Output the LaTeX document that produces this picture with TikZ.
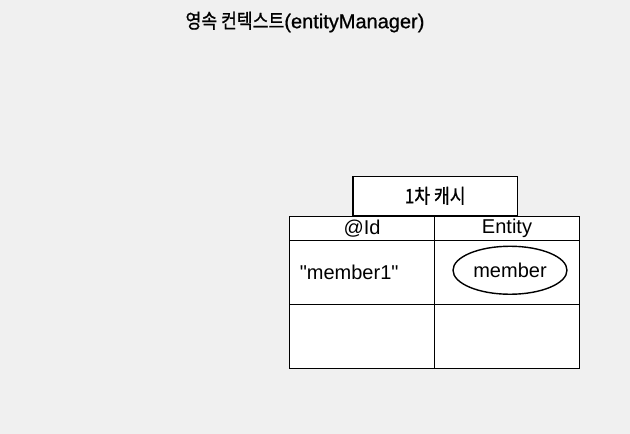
\documentclass[tikz,border=0pt]{standalone}
\usepackage{fontspec}
\setmainfont{Liberation Sans}
\newfontfamily\lat{Liberation Sans}
\newfontfamily\latb{Liberation Sans}[FakeBold=0.8]
\newfontfamily\kr{Noto Sans CJK KR}[FakeStretch=0.86,FakeBold=0.8]
\usetikzlibrary{positioning,shapes.geometric}

\begin{document}
\begin{tikzpicture}[x=1pt,y=-1pt]
  \fill[black!6] (0,0) rectangle (630,434);
  \useasboundingbox (0,0) rectangle (630,434);
  \begin{scope}[line width=1.4pt,node distance=145pt,on grid,
    cell/.style={rectangle,draw,fill=white,minimum width=145pt,minimum height=64pt,inner sep=0pt,font=\lat\fontsize{20}{22}\selectfont},
    head/.style={cell,minimum height=23.5pt},
    tab/.style={cell,minimum width=164.6pt,minimum height=39pt}]

    \node[font=\latb\fontsize{20}{22}\selectfont] (title) at (305,22) {{\kr\fontsize{20}{22}\selectfont 영속 컨텍스트}(entityManager)};

    \node[head] (id_head) at (362,228.5) {@Id};
    \node[head, right=of id_head] (entity_head) {Entity};
    \node[cell, below=43.75pt of id_head] (id_row1) {};
    \node[cell, right=of id_row1] (entity_row1) {};
    \node[cell, below=64pt of id_row1] (id_row2) {};
    \node[cell, right=of id_row2] (entity_row2) {};
    \node[tab, anchor=south] (cache) at (id_head.north east) {\kr\fontsize{20}{22}\selectfont 1차 캐시};

    \node[anchor=west, font=\lat\fontsize{20}{22}\selectfont] (key1) at ([xshift=7pt]id_row1.west) {"member1"};
    \node[ellipse, draw, fill=white, minimum width=114pt, minimum height=48pt, inner sep=0pt,
      font=\lat\fontsize{20}{22}\selectfont] (member) at ([xshift=3pt,yshift=2pt]entity_row1.center) {member};
  \end{scope}
\end{tikzpicture}
\end{document}
